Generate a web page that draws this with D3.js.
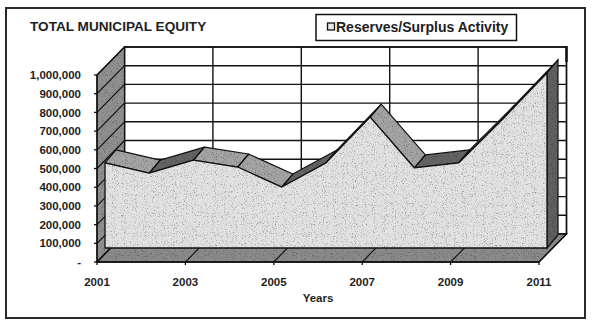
<!DOCTYPE html>
<html>
<head>
<meta charset="utf-8">
<script src="https://cdn.jsdelivr.net/npm/d3@7"></script>
<style>
  html, body { margin: 0; padding: 0; background: #fff; }
  svg { display: block; }
  text { font-family: "Liberation Sans", Arial, sans-serif; font-weight: bold; fill: #1e1e1e; }
</style>
</head>
<body>
<svg id="chart" width="592" height="322"></svg>
<script>
// Total municipal equity, reserves/surplus activity by year
const years = [2001, 2002, 2003, 2004, 2005, 2006, 2007, 2008, 2009, 2010, 2011];
const equity = [455000, 400000, 470000, 433000, 326000, 455000, 700000, 428000, 455000, 690000, 936000];
const xTickYears = [2001, 2003, 2005, 2007, 2009, 2011];
const yTicks = [0, 100000, 200000, 300000, 400000, 500000, 600000, 700000, 800000, 900000, 1000000];
const yTickLabels = ["-", "100,000", "200,000", "300,000", "400,000", "500,000", "600,000", "700,000", "800,000", "900,000", "1,000,000"];
const titleText = "TOTAL MUNICIPAL EQUITY";
const seriesName = "Reserves/Surplus Activity";
const xAxisTitle = "Years";

const svg = d3.select("#chart");

// Oblique 3D projection: depth pushes points up and to the right
const x = d3.scalePoint().domain(years).range([97, 539]);
const y = d3.scaleLinear().domain([0, 1000000]).range([262, 75]);
const wall = { dx: 27.5, dy: -28 };       // back wall depth offset
const slabFront = { dx: 8, dy: -14 };     // series front face
const slabBack = { dx: 19, dy: -27 };     // series back face

// Speckled texture for the shaded surfaces
const defs = svg.append("defs");
const grain = defs.append("filter").attr("id", "grain")
  .attr("x", 0).attr("y", 0).attr("width", "100%").attr("height", "100%")
  .attr("color-interpolation-filters", "sRGB");
grain.append("feTurbulence").attr("type", "fractalNoise").attr("baseFrequency", 0.9)
  .attr("numOctaves", 2).attr("seed", 7).attr("result", "noise");
grain.append("feColorMatrix").attr("in", "noise").attr("type", "saturate").attr("values", 0).attr("result", "grey");
const ct = grain.append("feComponentTransfer").attr("in", "grey").attr("result", "tone");
["feFuncR", "feFuncG", "feFuncB"].forEach(f =>
  ct.append(f).attr("type", "linear").attr("slope", 1.5).attr("intercept", 0.3));
ct.append("feFuncA").attr("type", "linear").attr("slope", 0).attr("intercept", 1);
grain.append("feBlend").attr("in", "SourceGraphic").attr("in2", "tone").attr("mode", "multiply").attr("result", "mix");
grain.append("feComposite").attr("in", "mix").attr("in2", "SourceGraphic").attr("operator", "in");

const line = d3.line();
const poly = pts => line(pts) + "Z";

// Outer frame
svg.append("rect").attr("x", 6).attr("y", 8).attr("width", 579).attr("height", 310)
  .attr("fill", "#fff").attr("stroke", "#2a2a2a").attr("stroke-width", 2);

// Back wall
const y0 = y(0), yMax = y(1000000);
const bx0 = x(years[0]) + wall.dx, bx1 = x(years[years.length - 1]) + wall.dx;
svg.append("path")
  .attr("d", poly([[bx0, yMax + wall.dy], [bx1, yMax + wall.dy], [bx1, y0 + wall.dy], [bx0, y0 + wall.dy]]))
  .attr("fill", "#fff").attr("stroke", "#111").attr("stroke-width", 1.4);
svg.append("g").selectAll("line").data(yTicks).join("line")
  .attr("x1", bx0).attr("x2", bx1)
  .attr("y1", d => y(d) + wall.dy).attr("y2", d => y(d) + wall.dy)
  .attr("stroke", "#111").attr("stroke-width", 1.4);
svg.append("g").selectAll("line").data(xTickYears).join("line")
  .attr("x1", d => x(d) + wall.dx).attr("x2", d => x(d) + wall.dx)
  .attr("y1", yMax + wall.dy).attr("y2", y0 + wall.dy)
  .attr("stroke", "#111").attr("stroke-width", 1.4);
svg.append("line").attr("x1", bx1).attr("x2", bx1).attr("y1", yMax + wall.dy - 1).attr("y2", yMax + wall.dy + 15)
  .attr("stroke", "#111").attr("stroke-width", 2.4);

// Side wall
const sx = x(years[0]);
const sidePts = [[sx, y0], [sx, yMax], [sx + wall.dx, yMax + wall.dy], [sx + wall.dx, y0 + wall.dy]];
svg.append("path").attr("d", poly(sidePts)).attr("fill", "#909090").attr("filter", "url(#grain)");
svg.append("g").selectAll("line").data(yTicks).join("line")
  .attr("x1", sx).attr("y1", d => y(d))
  .attr("x2", sx + wall.dx).attr("y2", d => y(d) + wall.dy)
  .attr("stroke", "#111").attr("stroke-width", 1.2);
svg.append("path").attr("d", poly(sidePts))
  .attr("fill", "none").attr("stroke", "#111").attr("stroke-width", 1.2);

// Floor
const fx1 = x(years[years.length - 1]);
const floorPts = [[sx, y0], [fx1, y0], [fx1 + wall.dx, y0 + wall.dy], [sx + wall.dx, y0 + wall.dy]];
svg.append("path").attr("d", poly(floorPts)).attr("fill", "#8a8a8a").attr("filter", "url(#grain)");
svg.append("g").selectAll("line").data(xTickYears).join("line")
  .attr("x1", d => x(d)).attr("y1", y0)
  .attr("x2", d => x(d) + wall.dx).attr("y2", y0 + wall.dy)
  .attr("stroke", "#111").attr("stroke-width", 1.1);
svg.append("path").attr("d", poly(floorPts)).attr("fill", "none").attr("stroke", "#111").attr("stroke-width", 1.3);

// Series slab: top faces, right end cap, then the front face
const pts = years.map((yr, i) => ({ yr, v: equity[i] }));
const F = d => [x(d.yr) + slabFront.dx, y(d.v) + slabFront.dy];
const B = d => [x(d.yr) + slabBack.dx, y(d.v) + slabBack.dy];
const segs = d3.pairs(pts);
const slab = svg.append("g");
slab.selectAll("path.top").data(segs).join("path").attr("class", "top")
  .attr("d", ([a, b]) => poly([F(a), F(b), B(b), B(a)]))
  .attr("fill", ([a, b]) => b.v > a.v ? "#646464" : "#a4a4a4")
  .attr("filter", "url(#grain)");
slab.selectAll("path.topline").data(segs).join("path").attr("class", "topline")
  .attr("d", ([a, b]) => poly([F(a), F(b), B(b), B(a)]))
  .attr("fill", "none").attr("stroke", "#111").attr("stroke-width", 1.2).attr("stroke-linejoin", "round");
const last = pts[pts.length - 1];
const capPts = [F(last), B(last), [B(last)[0], y(0) + slabBack.dy], [F(last)[0], y(0) + slabFront.dy]];
slab.append("path").attr("d", poly(capPts)).attr("fill", "#606060").attr("filter", "url(#grain)");
slab.append("path").attr("d", poly(capPts)).attr("fill", "none").attr("stroke", "#111").attr("stroke-width", 1.2);
const area = d3.area()
  .x(d => x(d.yr) + slabFront.dx)
  .y0(y(0) + slabFront.dy)
  .y1(d => y(d.v) + slabFront.dy);
slab.append("path").datum(pts).attr("d", area).attr("fill", "#e2e2e2").attr("filter", "url(#grain)");
slab.append("path").datum(pts).attr("d", area).attr("fill", "none")
  .attr("stroke", "#111").attr("stroke-width", 1.3).attr("stroke-linejoin", "round");

// Value axis
svg.append("line").attr("x1", sx).attr("x2", sx).attr("y1", yMax).attr("y2", y0)
  .attr("stroke", "#111").attr("stroke-width", 1.4);
svg.append("g").selectAll("line").data(yTicks).join("line")
  .attr("x1", sx - 3).attr("x2", sx).attr("y1", d => y(d)).attr("y2", d => y(d))
  .attr("stroke", "#111").attr("stroke-width", 1.3);
svg.append("g").selectAll("text").data(yTicks).join("text")
  .attr("x", 81).attr("y", d => y(d)).attr("dy", "0.36em")
  .attr("text-anchor", "end").style("font-size", "11.5px")
  .text((d, i) => yTickLabels[i]);

// Category axis
svg.append("line").attr("x1", sx).attr("x2", fx1).attr("y1", y0).attr("y2", y0)
  .attr("stroke", "#111").attr("stroke-width", 1.4);
svg.append("g").selectAll("line").data(xTickYears).join("line")
  .attr("x1", d => x(d)).attr("x2", d => x(d)).attr("y1", y0).attr("y2", y0 + 3)
  .attr("stroke", "#111").attr("stroke-width", 1.3);
svg.append("g").selectAll("text").data(xTickYears).join("text")
  .attr("x", d => x(d)).attr("y", 282).attr("dy", "0.36em")
  .attr("text-anchor", "middle").style("font-size", "11.5px")
  .text(d => d);
svg.append("text").attr("x", 318).attr("y", 298).attr("dy", "0.36em")
  .attr("text-anchor", "middle").style("font-size", "11.5px").text(xAxisTitle);

// Title
svg.append("text").attr("x", 30).attr("y", 30.5).style("font-size", "13.6px").text(titleText);

// Legend
svg.append("rect").attr("x", 316).attr("y", 14.5).attr("width", 200.5).attr("height", 26)
  .attr("fill", "#fff").attr("stroke", "#111").attr("stroke-width", 1.5);
svg.append("rect").attr("x", 327.5).attr("y", 23).attr("width", 7).attr("height", 7)
  .attr("fill", "#e6e6e6").attr("stroke", "#111").attr("stroke-width", 1.3);
svg.append("text").attr("x", 336).attr("y", 32).style("font-size", "14px").text(seriesName);
</script>
</body>
</html>
